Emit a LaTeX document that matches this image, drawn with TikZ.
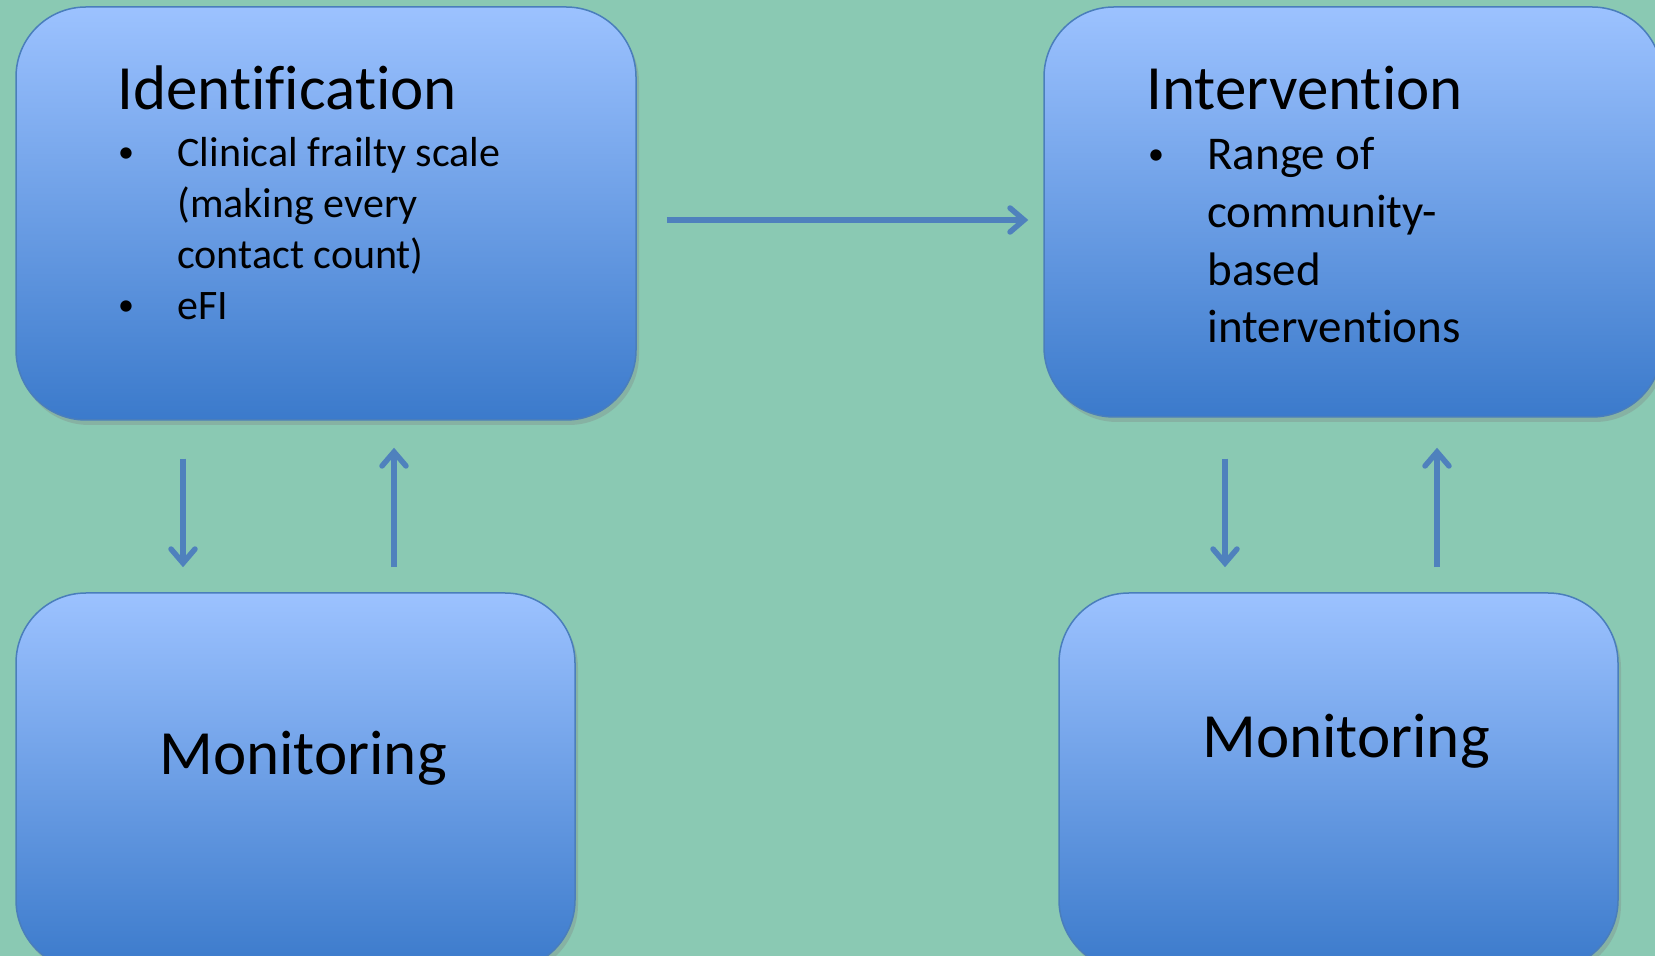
\documentclass[tikz,border=0pt]{standalone}
\usepackage{fontspec}
\setmainfont{Carlito}[Ligatures=CommonOff]
\usetikzlibrary{positioning}
\usetikzlibrary{calc}
\usetikzlibrary{arrows.meta,shadows}

\definecolor{bggreen}{HTML}{8AC9B3}
\definecolor{boxtop}{HTML}{9CC2FF}
\definecolor{boxbot}{HTML}{3B7ACB}
\definecolor{boxline}{HTML}{4A7EBB}
\definecolor{arrowblue}{HTML}{4F81BD}

\tikzset{
  box/.style={rectangle, rounded corners=35pt, draw=boxline, line width=0.75pt,
    top color=boxtop, bottom color=boxbot, inner sep=0pt,
    drop shadow={opacity=0.3, shadow xshift=1.5pt, shadow yshift=-2.5pt}},
  flow/.style={draw=arrowblue, line width=2.75pt, line cap=butt,
    -{Straight Barb[length=7pt, width=12pt, line cap=round]}},
  headtext/.style={font=\fontsize{31.5}{38}\selectfont, inner sep=0pt},
  idtext/.style={font=\fontsize{21}{25}\selectfont, inner sep=0pt, anchor=base west},
  inttext/.style={font=\fontsize{23.5}{28}\selectfont, inner sep=0pt, anchor=base west},
  bullet/.style={font=\fontsize{16}{19}\selectfont, inner sep=0pt, anchor=base},
}

\begin{document}
\begin{tikzpicture}[x=0.5pt, y=-0.5pt]
\useasboundingbox (0,0) rectangle (1655,956);
\clip (0,0) rectangle (1655,956);
\fill[bggreen] (0,0) rectangle (1655,956);

\node[box, minimum width=310pt, minimum height=206.5pt] (idbox) at (326,213.5) {};
\node[box, minimum width=309pt, minimum height=205pt] (intbox) at (1353,212) {};
\node[box, minimum width=279.5pt, minimum height=188.5pt] (monl) at (295.5,781.5) {};
\node[box, minimum width=279.5pt, minimum height=188.5pt] (monr) at (1338.5,781.5) {};

\node[headtext, anchor=base west] (idtitle) at (117,110) {Identification};
\node[bullet] (idbul1) at (126,163) {•};
\node[bullet] (idbul2) at (126,316) {•};
\foreach \yy/\txt [count=\i] in {167/Clinical frailty scale, 218/{(making every}, 269/{contact count)}, 320/eFI}
  \node[idtext] (idline\i) at (177,\yy) {\txt};

\node[headtext, anchor=base west] (inttitle) at (1146,110) {Intervention};
\node[bullet] (intbul) at (1156,165) {•};
\foreach \yy/\txt [count=\i] in {170/Range of, 228/community-, 286/based, 343/interventions}
  \node[inttext] (intline\i) at (1207,\yy) {\txt};

\node[headtext, anchor=base] (monltext) at (303,775) {Monitoring};
\node[headtext, anchor=base] (monrtext) at (1346,757) {Monitoring};

\draw[flow, shorten <=15pt, shorten >=7.5pt] (idbox.east |- 0,220) -- (intbox.west |- 0,220);
\draw[flow, shorten <=19pt, shorten >=12.5pt] (idbox.south -| 183,0) -- (monl.north -| 183,0);
\draw[flow, shorten <=12.5pt, shorten >=13.5pt] (monl.north -| 394,0) -- (idbox.south -| 394,0);
\draw[flow, shorten <=20.5pt, shorten >=12.5pt] (intbox.south -| 1225,0) -- (monr.north -| 1225,0);
\draw[flow, shorten <=12.5pt, shorten >=15pt] (monr.north -| 1437,0) -- (intbox.south -| 1437,0);
\end{tikzpicture}
\end{document}
